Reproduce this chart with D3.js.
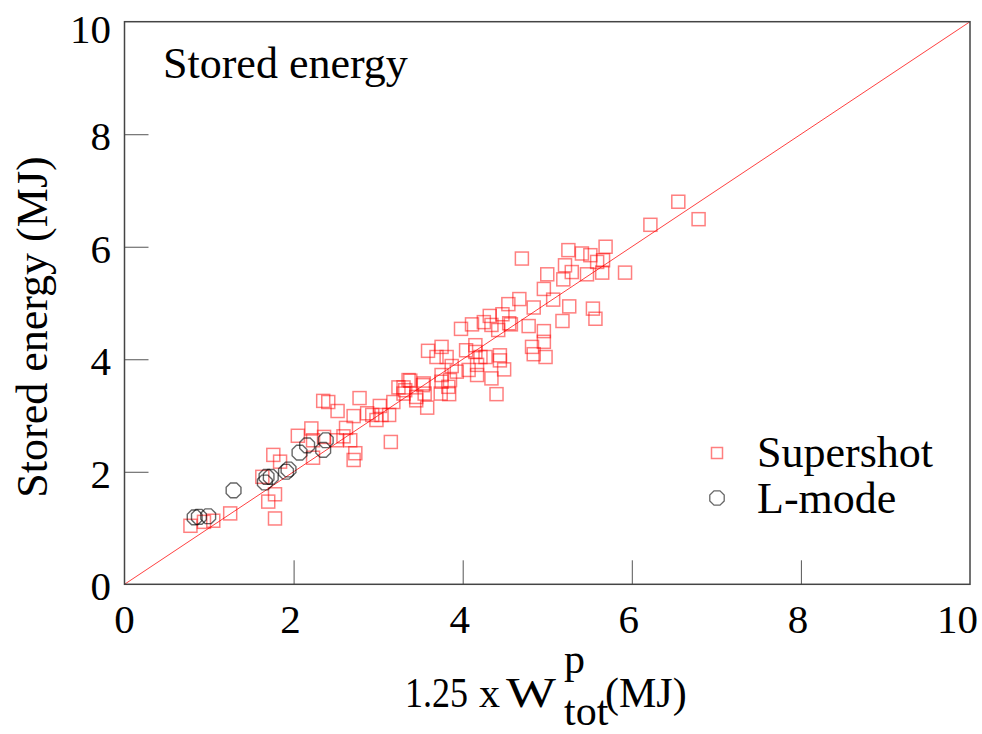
<!DOCTYPE html>
<html><head><meta charset="utf-8">
<script src="https://cdn.jsdelivr.net/npm/d3@7"></script>
<style>
body{margin:0;background:#fff;}
</style></head>
<body><svg id="c" width="982" height="734"></svg>
<script>
const xTicks=[0,2,4,6,8,10];
const yTicks=[0,2,4,6,8,10];
const superW=[0.78,0.94,1.05,1.25,1.78,1.70,1.78,1.63,1.76,1.84,2.05,2.21,2.23,2.23,2.36,2.51,2.35,2.41,2.52,2.78,2.71,2.87,2.62,2.59,2.67,2.73,2.71,3.98,3.59,3.75,3.69,3.81,3.87,3.93,3.75,3.85,3.74,3.84,4.04,4.07,3.38,3.24,3.30,3.53,3.55,3.45,3.58,3.30,3.18,3.02,3.04,2.98,3.13,2.93,3.15,4.70,5.25,5.41,5.51,5.59,5.21,5.29,5.00,5.19,5.47,4.96,5.07,4.67,4.54,4.84,5.26,5.54,5.57,5.18,4.47,4.32,4.25,4.11,4.34,4.42,4.57,4.78,4.96,4.96,4.82,4.84,4.98,4.15,4.15,4.21,4.27,4.44,4.44,4.49,4.34,4.40,4.17,4.17,3.75,3.83,3.54,3.36,3.45,3.32,6.55,6.79,6.22,5.69,5.66,5.92,5.65,4.55];
const superE=[1.04,1.11,1.13,1.26,1.17,1.47,1.60,1.91,2.30,2.18,2.64,2.77,2.56,2.25,2.62,2.56,3.26,3.24,3.08,3.31,2.99,3.04,2.78,2.63,2.56,2.33,2.21,4.54,4.15,4.22,4.04,4.04,3.88,3.78,3.72,3.63,3.39,3.38,4.16,3.81,3.62,3.50,3.50,3.54,3.39,3.27,3.14,3.39,3.24,3.17,3.01,2.92,3.01,3.01,2.53,5.79,5.94,5.88,5.85,5.73,5.67,5.55,5.51,5.42,5.51,5.25,5.06,5.07,4.98,4.92,4.94,4.90,4.72,4.68,4.80,4.77,4.66,4.62,4.61,4.52,4.62,4.59,4.50,4.31,4.22,4.09,4.04,4.25,4.13,4.04,4.04,4.07,3.98,3.82,3.66,3.38,3.90,3.72,3.60,3.51,3.57,3.63,3.33,3.45,6.80,6.49,6.39,6.00,5.76,5.54,5.54,4.64];
const lmodeW=[0.83,0.88,0.99,1.29,1.66,1.68,1.73,1.94,1.91,2.07,2.16,2.35,2.38];
const lmodeE=[1.19,1.20,1.21,1.67,1.81,1.91,1.91,2.04,2.00,2.34,2.47,2.39,2.56];
const seriesNames=["Supershot","L-mode"];

const FONT="'Liberation Serif', 'Times New Roman', Times, 'DejaVu Serif', serif";
const svg=d3.select("#c").attr("font-family",FONT);
const L=124.5,T=21.7,R=970,B=584.3;
const x=d3.scaleLinear().domain([0,10]).range([L,R]);
const y=d3.scaleLinear().domain([0,10]).range([B,T]);

// diagonal
svg.append("line").attr("x1",x(0)).attr("y1",y(0)).attr("x2",x(10)).attr("y2",y(10))
  .attr("stroke","#ff0000").attr("stroke-opacity",0.75).attr("stroke-width",1);

// ticks inward
const tl=24;
svg.append("g").attr("transform",`translate(0,${B})`)
  .call(d3.axisTop(x).tickValues(xTicks.slice(1,-1)).tickSize(tl).tickFormat(""))
  .call(g=>{g.select(".domain").remove();g.selectAll("line").attr("stroke","#555").attr("stroke-width",1);});
svg.append("g").attr("transform",`translate(${L},0)`)
  .call(d3.axisRight(y).tickValues(yTicks.slice(1,-1)).tickSize(tl).tickFormat(""))
  .call(g=>{g.select(".domain").remove();g.selectAll("line").attr("stroke","#555").attr("stroke-width",1);});

// tick labels
svg.append("g").selectAll("text").data(xTicks).join("text")
  .attr("font-family",FONT)
  .attr("x",(d,i)=>i===xTicks.length-1?978:x(d)-(d>0?3:0))
  .attr("y",B+49)
  .attr("text-anchor",(d,i)=>i===xTicks.length-1?"end":"middle")
  .attr("font-size",41).text(d=>d);
svg.append("g").selectAll("text").data(yTicks).join("text")
  .attr("font-family",FONT)
  .attr("x",111).attr("y",(d,i)=>i===yTicks.length-1?43:y(d)+16).attr("text-anchor","end").attr("font-size",41).text(d=>d);

// squares
const s=13;
svg.append("g").selectAll("rect").data(superW.map((w,i)=>[w,superE[i]])).join("rect")
  .attr("x",d=>x(d[0])-s/2).attr("y",d=>y(d[1])-s/2).attr("width",s).attr("height",s)
  .attr("fill","none").attr("stroke","#ff0000").attr("stroke-opacity",0.5).attr("stroke-width",1.5);

// octagons
function oct(cx,cy,r){
  const pts=d3.range(8).map(k=>{const a=Math.PI/8+k*Math.PI/4;return [cx+r*Math.cos(a),cy+r*Math.sin(a)];});
  return d3.line()(pts)+"Z";
}
svg.append("g").selectAll("path").data(lmodeW.map((w,i)=>[w,lmodeE[i]])).join("path")
  .attr("d",d=>oct(x(d[0]),y(d[1]),8))
  .attr("fill","none").attr("stroke","#000").attr("stroke-opacity",0.6).attr("stroke-width",1.4);

// frame
svg.append("rect").attr("x",L).attr("y",T).attr("width",R-L).attr("height",B-T)
  .attr("fill","none").attr("stroke","#444").attr("stroke-width",1.5);

// title
svg.append("text").attr("font-family",FONT).attr("x",163).attr("y",78).attr("font-size",44).text("Stored energy");

// legend
svg.append("rect").attr("x",717-5.5).attr("y",453-5.5).attr("width",11).attr("height",11)
  .attr("fill","none").attr("stroke","#ff0000").attr("stroke-opacity",0.5).attr("stroke-width",1.5);
svg.append("path").attr("d",oct(717,498,7.8)).attr("fill","none").attr("stroke","#000").attr("stroke-opacity",0.6).attr("stroke-width",1.3);
svg.append("text").attr("font-family",FONT).attr("x",757).attr("y",467).attr("font-size",44).text(seriesNames[0]);
svg.append("text").attr("font-family",FONT).attr("x",757).attr("y",513).attr("font-size",44).text(seriesNames[1]);

// y axis label
svg.append("text").attr("font-family",FONT).attr("transform","translate(47,327) rotate(-90)").attr("text-anchor","middle")
  .attr("font-size",44).text("Stored energy (MJ)");

// x axis label
const xl=svg.append("text").attr("font-family",FONT).attr("font-size",42).attr("x",405).attr("y",707);
xl.append("tspan").attr("textLength",63).attr("lengthAdjust","spacingAndGlyphs").text("1.25");
xl.append("tspan").attr("x",479).text("x");
xl.append("tspan").attr("x",506).attr("textLength",50).attr("lengthAdjust","spacingAndGlyphs").text("W");
xl.append("tspan").attr("x",564).attr("y",673).text("p");
xl.append("tspan").attr("x",564).attr("y",725).text("tot");
xl.append("tspan").attr("x",605).attr("y",707).text("(MJ)");
</script></body></html>
